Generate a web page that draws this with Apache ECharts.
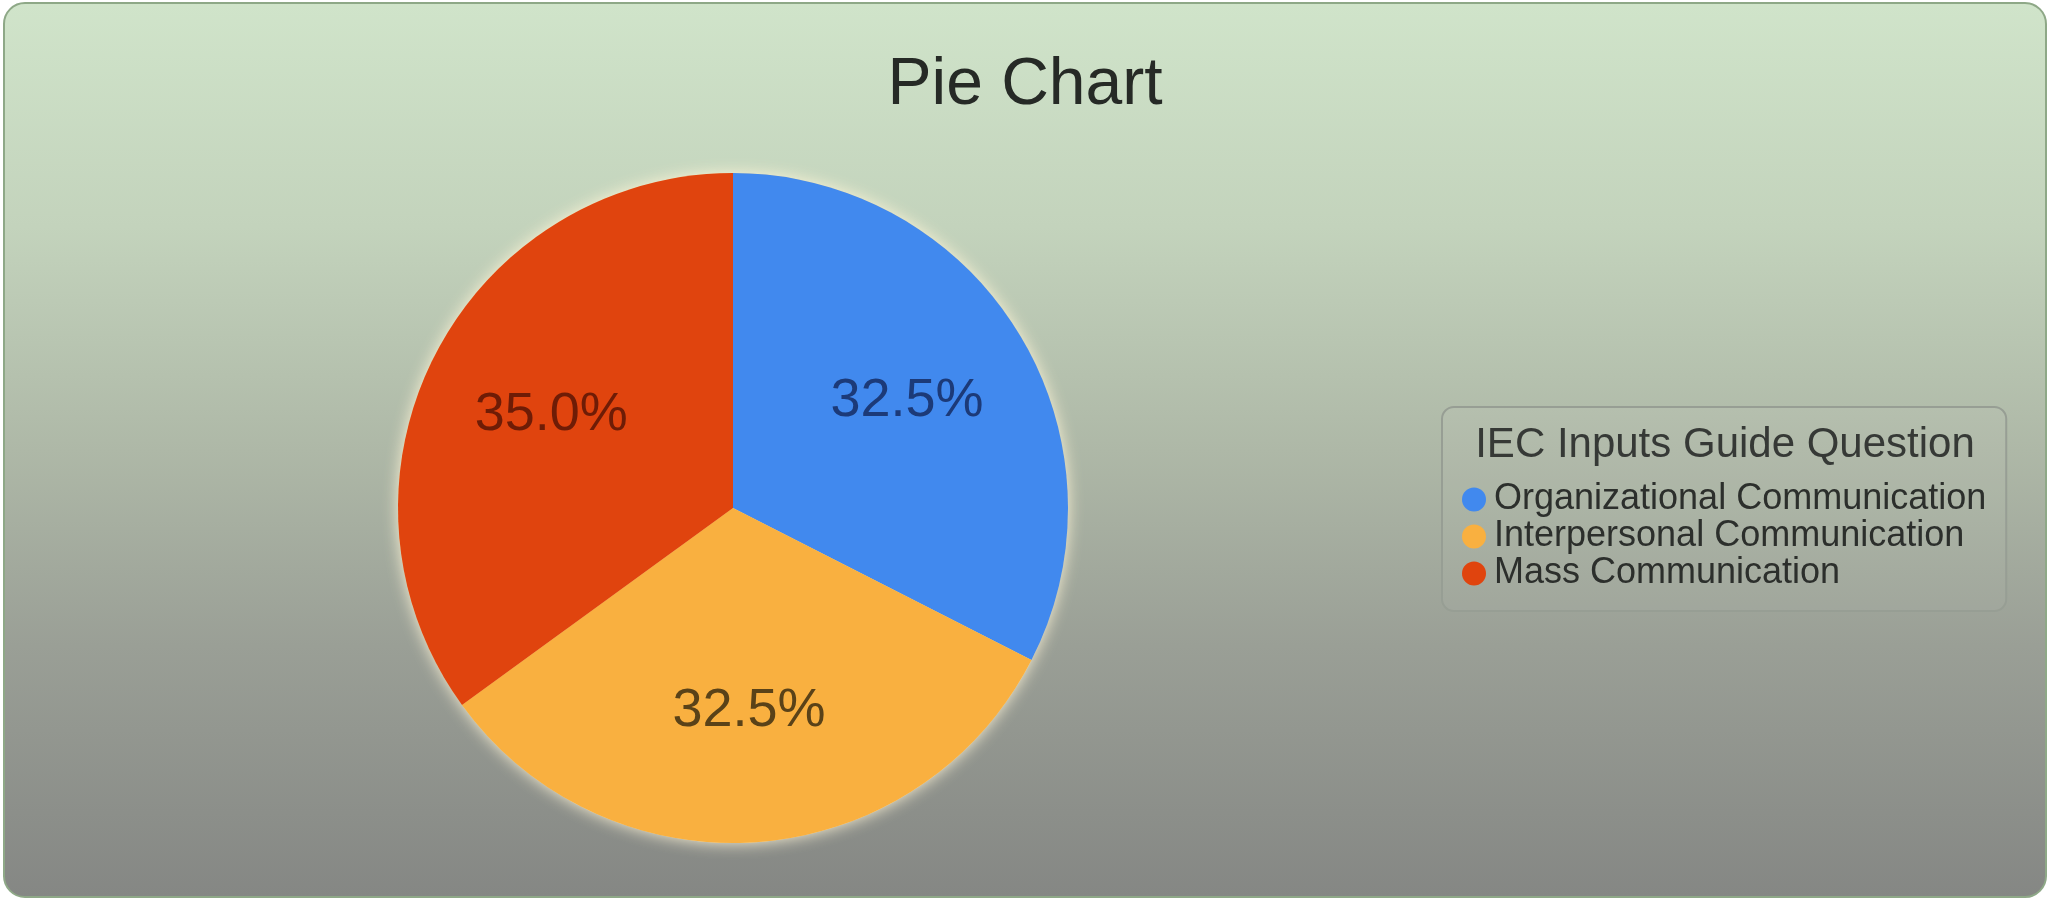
<!DOCTYPE html>
<html>
<head>
<meta charset="utf-8">
<title>Pie Chart</title>
<script src="https://cdn.jsdelivr.net/npm/echarts@6/dist/echarts.min.js"></script>
<style>
html, body {
    margin: 0;
    padding: 0;
    background: #ffffff;
    width: 2053px;
    height: 902px;
    overflow: hidden;
}
.frame {
    position: absolute;
    left: 3px;
    top: 2px;
    width: 2040px;
    height: 892px;
    border: 2px solid #8ea887;
    border-radius: 22px;
    background: linear-gradient(to bottom, #d0e4ca 0%, #c3d3bc 25%, #aeb8a7 50%, #9a9f96 72%, #858784 100%);
    overflow: hidden;
}
#chart {
    width: 100%;
    height: 100%;
}
</style>
</head>
<body>
<div class="frame"><div id="chart"></div></div>
<script>
// chart data
const categories = ['Organizational Communication', 'Interpersonal Communication', 'Mass Communication'];
const shares = [32.5, 32.5, 35.0];

// slice colours and label colours (same order as categories)
const sliceColors = ['#4189ee', '#f9b040', '#e0440e'];
const labelColors = ['#1c3a78', '#5a4218', '#6e1c06'];

const chartDom = document.getElementById('chart');
const myChart = echarts.init(chartDom);

const center = [728, 504];
const outerR = 335;

const option = {
    backgroundColor: 'transparent',
    animation: false,
    title: {
        text: 'Pie Chart',
        left: 'center',
        top: 44,
        textStyle: {
            fontFamily: 'Liberation Sans, Arial, sans-serif',
            fontSize: 66,
            fontWeight: 'normal',
            color: '#262a26'
        }
    },
    legend: {
        data: categories,
        orient: 'vertical',
        left: 1437,
        top: 403,
        padding: [74, 20, 19, 20],
        borderColor: '#979e94',
        borderWidth: 2,
        borderRadius: 12,
        backgroundColor: 'rgba(255,255,255,0.04)',
        icon: 'circle',
        itemWidth: 30,
        itemHeight: 24,
        itemGap: 0,
        selectedMode: false,
        textStyle: {
            fontFamily: 'Liberation Sans, Arial, sans-serif',
            fontSize: 36,
            lineHeight: 37,
            color: '#2c2f2c'
        }
    },
    graphic: [{
        type: 'text',
        x: 1720,
        y: 441,
        style: {
            text: 'IEC Inputs Guide Question',
            font: '42px "Liberation Sans", Arial, sans-serif',
            fill: '#2e312e',
            align: 'center',
            verticalAlign: 'middle'
        }
    }],
    series: [
        // glow under the pie
        {
            type: 'pie',
            silent: true,
            center: center,
            radius: [0, outerR],
            label: { show: false },
            labelLine: { show: false },
            itemStyle: {
                color: '#f4d9a0',
                shadowBlur: 16,
                shadowColor: 'rgba(255, 246, 215, 0.95)'
            },
            data: [{ value: 1, name: '' }]
        },
        // slices
        {
            type: 'pie',
            silent: true,
            center: center,
            radius: [0, outerR],
            startAngle: 90,
            clockwise: true,
            label: { show: false },
            labelLine: { show: false },
            itemStyle: { borderWidth: 0 },
            data: categories.map((name, i) => ({
                name: name,
                value: shares[i],
                itemStyle: { color: sliceColors[i] }
            }))
        },
        // percentage labels placed further out from the centre
        {
            type: 'pie',
            silent: true,
            center: center,
            radius: [outerR * 0.2, outerR],
            startAngle: 90,
            clockwise: true,
            itemStyle: { color: 'rgba(0,0,0,0)' },
            labelLine: { show: false },
            label: {
                show: true,
                position: 'inside',
                fontFamily: 'Liberation Sans, Arial, sans-serif',
                fontSize: 54,
                formatter: p => p.percent.toFixed(1) + '%'
            },
            data: categories.map((name, i) => ({
                name: name,
                value: shares[i],
                label: { color: labelColors[i] }
            }))
        }
    ]
};

myChart.setOption(option);
window.addEventListener('resize', () => {
    myChart.resize();
});
</script>
</body>
</html>
